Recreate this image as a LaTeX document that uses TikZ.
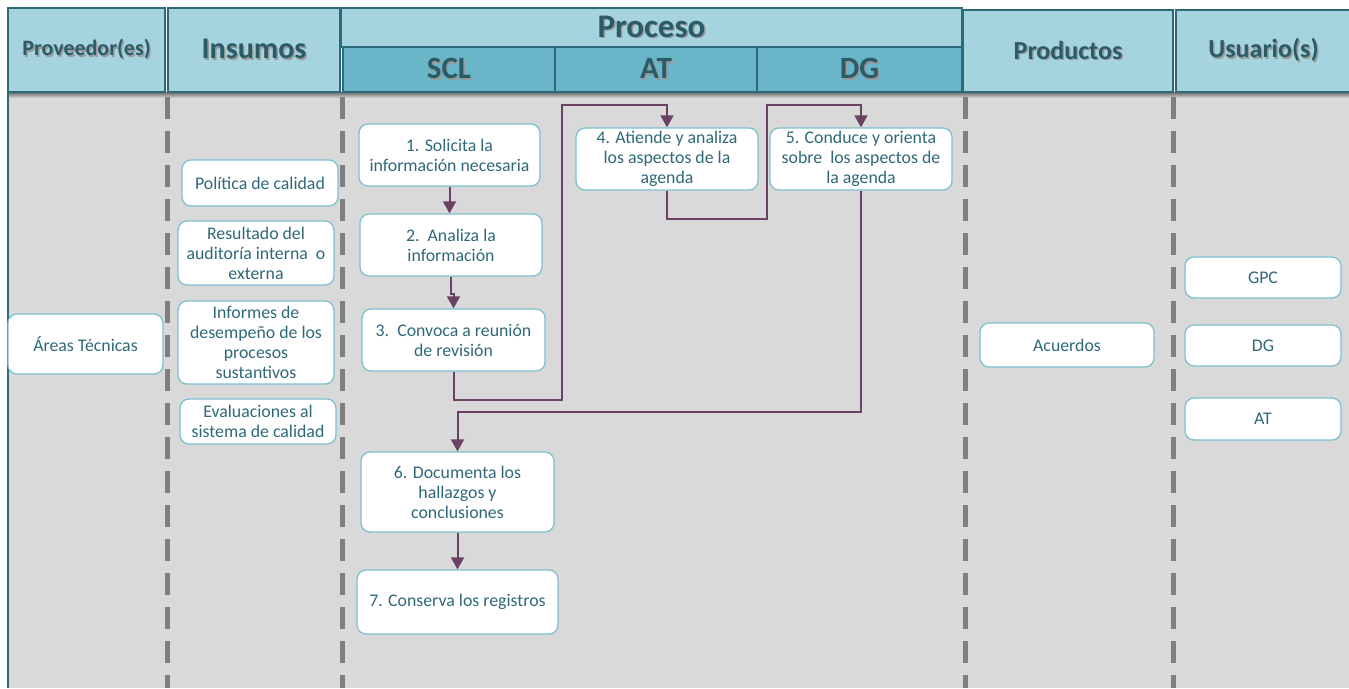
\documentclass[tikz,border=0pt]{standalone}
\usepackage{fontspec}
\setmainfont{Carlito}
\usetikzlibrary{arrows.meta,calc}
\definecolor{cabecera}{HTML}{A5D4DF}
\definecolor{subcab}{HTML}{6AB5C8}
\definecolor{bordecab}{HTML}{2C6A7A}
\definecolor{textocab}{HTML}{2B5B66}
\definecolor{textocaja}{HTML}{2F6978}
\definecolor{bordecaja}{HTML}{7DC1D1}
\definecolor{fondo}{HTML}{D9D9D9}
\definecolor{linea}{HTML}{6B4263}
\definecolor{guion}{HTML}{7F7F7F}
\newcommand{\sombra}[1]{\rlap{\kern1.5pt\raisebox{-1.5pt}{\color{black!40}#1}}#1}

\begin{document}
\begin{tikzpicture}[x=1pt,y=-1pt,>={Triangle[length=12pt,width=13pt]},
  caja/.style={draw=bordecaja,line width=1.3pt,fill=white,rounded corners=9pt,
    align=center,text=textocaja,inner sep=2pt,font=\fontsize{17.8}{20}\selectfont},
  cab/.style={draw=bordecab,line width=1.2pt,fill=cabecera,text=textocab,inner sep=0pt},
  flecha/.style={draw=linea,line width=2pt,->},
  carril/.style={draw=guion,line width=5pt,dash pattern=on 22pt off 12pt}]
\useasboundingbox (0,0) rectangle (1349,688);
% fondo y carriles
\fill[fondo] (8,92) rectangle (1349,688);
\shade[top color=black!60,bottom color=fondo] (8,92) rectangle (1349,98);
\draw[bordecab,line width=1.2pt] (8,92) -- (8,688);
\foreach \xc in {167,342,965,1173}
  \draw[carril] (\xc,97) -- (\xc,688);
% cabeceras
\node[cab,minimum width=157pt,minimum height=84pt,font=\bfseries\fontsize{22}{24}\selectfont] (prov) at (86.5,50) {\sombra{Proveedor(es)}};
\node[cab,minimum width=172pt,minimum height=84pt,font=\bfseries\fontsize{30}{32}\selectfont] (ins) at (254,50) {\sombra{Insumos}};
\node[cab,minimum width=621pt,minimum height=39pt,font=\bfseries\fontsize{33}{35}\selectfont] (proc) at (651.5,27.5) {\sombra{Proceso}};
\node[cab,fill=subcab,minimum width=212pt,minimum height=45pt,font=\bfseries\fontsize{31}{33}\selectfont] (scl) at (449,69.5) {\sombra{SCL}};
\node[cab,fill=subcab,minimum width=202pt,minimum height=45pt,font=\bfseries\fontsize{31}{33}\selectfont] (at) at (656,69.5) {\sombra{AT}};
\node[cab,fill=subcab,minimum width=205pt,minimum height=45pt,font=\bfseries\fontsize{31}{33}\selectfont] (dg) at (859.5,69.5) {\sombra{DG}};
\node[cab,minimum width=210pt,minimum height=82pt,font=\bfseries\fontsize{26}{28}\selectfont] (prod) at (1068,51) {\sombra{Productos}};
\node[cab,minimum width=175pt,minimum height=82pt,font=\bfseries\fontsize{26}{28}\selectfont] (usu) at (1263.5,51) {\sombra{Usuario(s)}};
% proveedores e insumos
\node[caja,minimum width=155pt,minimum height=60pt] (areas) at (85.5,344) {Áreas Técnicas};
\node[caja,minimum width=156pt,minimum height=46pt] (pol) at (260,183) {Política de calidad};
\node[caja,minimum width=156pt,minimum height=64pt] (res) at (256,253) {Resultado del\\auditoría interna\ \ o\\externa};
\node[caja,minimum width=156pt,minimum height=83pt] (inf) at (256,342.5) {Informes de\\desempeño de los\\procesos\\sustantivos};
\node[caja,minimum width=156pt,minimum height=45pt] (eva) at (258,421.5) {Evaluaciones al\\sistema de calidad};
% actividades
\node[caja,minimum width=181pt,minimum height=62pt] (n1) at (449.5,155) {1. Solicita la\\información necesaria};
\node[caja,minimum width=182pt,minimum height=62pt] (n2) at (451,245) {2.\ \ Analiza la\\información};
\node[caja,minimum width=183pt,minimum height=62pt] (n3) at (453.5,340) {3.\ \ Convoca a reunión\\de revisión};
\node[caja,minimum width=182pt,minimum height=62pt] (n4) at (667,159) {4. Atiende y analiza\\los aspectos de la\\agenda};
\node[caja,minimum width=182pt,minimum height=62pt] (n5) at (861,159) {5. Conduce y orienta\\sobre\ \ los aspectos de\\la agenda};
\node[caja,minimum width=193pt,minimum height=80pt] (n6) at (457.5,492) {6. Documenta los\\hallazgos y\\conclusiones};
\node[caja,minimum width=201pt,minimum height=64pt] (n7) at (457.5,602) {7. Conserva los registros};
% productos y usuarios
\node[caja,minimum width=174pt,minimum height=44pt] (acu) at (1067,345) {Acuerdos};
\node[caja,minimum width=156pt,minimum height=41pt] (gpc) at (1263,277.5) {GPC};
\node[caja,minimum width=156pt,minimum height=41pt] (udg) at (1263,345.5) {DG};
\node[caja,minimum width=156pt,minimum height=42pt] (uat) at (1263,419) {AT};
% flujo
\draw[flecha] (n1.south) -- (n1.south |- n2.north);
\draw[flecha] (n2.south) -- ++(0,17) -| (n3.north);
\draw[flecha] (n3.south) |- (562,400) |- ($(n4.north)+(0,-22)$) -- (n4.north);
\draw[flecha] (n4.south) |- (767,219) |- ($(n5.north)+(0,-22)$) -- (n5.north);
\draw[flecha] (n5.south) |- ($(n6.north)+(0,-39)$) -- (n6.north);
\draw[flecha] (n6.south) -- (n7.north);
\end{tikzpicture}
\end{document}
